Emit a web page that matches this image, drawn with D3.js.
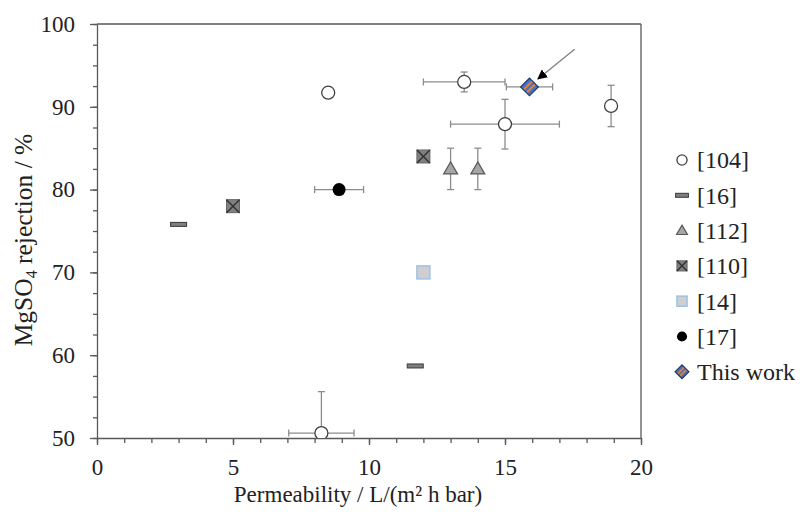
<!DOCTYPE html>
<html>
<head>
<meta charset="utf-8">
<script src="https://cdn.jsdelivr.net/npm/d3@7"></script>
<style>
  body { margin: 0; background: #fff; }
  svg { font-family: "Liberation Serif", "Times New Roman", serif; }
</style>
</head>
<body>
<svg id="chart"></svg>
<script>
// data
const refs = ["[104]", "[16]", "[112]", "[110]", "[14]", "[17]", "This work"];

const perm104 = [8.5, 13.5, 15.0, 18.9, 8.25];
const rej104 = [91.7, 93.0, 87.9, 90.1, 50.6];
const permErr104 = [0, 1.5, 2.0, 0, 1.2];
const rejErr104 = [0, 1.2, 3.0, 2.5, 5.0];

const perm16 = [3.0, 11.7];
const rej16 = [75.8, 58.7];

const perm112 = [13, 14];
const rej112 = [82.5, 82.5];
const rejErr112 = [2.5, 2.5];

const perm110 = [5, 12];
const rej110 = [78, 84];

const perm14 = [12];
const rej14 = [70];

const perm17 = [8.9];
const rej17 = [80];
const permErr17 = [0.9];

const permThis = [15.9];
const rejThis = [92.4];
const permErrThis = [0.85];

// arrow pointing at "This work"
const arrowFrom = [17.56, 96.94];
const arrowTo = [16.21, 93.36];

const xTicks = [0, 5, 10, 15, 20];
const yTicks = [50, 60, 70, 80, 90, 100];

const W = 802, H = 512;
const margin = { top: 24, right: 161, bottom: 74, left: 97 },
  width = W - margin.left - margin.right,
  height = H - margin.top - margin.bottom;

const axisCol = "#595959";
const errCol = "#8c8c8c";

const svg = d3.select("#chart").attr("width", W).attr("height", H);

const x = d3.scaleLinear().domain([0, 20]).range([0, width]);
const y = d3.scaleLinear().domain([50, 100]).range([height, 0]);

const defs = svg.append("defs");
defs.append("clipPath").attr("id", "clip")
  .append("rect").attr("width", width).attr("height", height);
defs.append("marker")
  .attr("id", "arrowhead")
  .attr("viewBox", "0 0 10 10")
  .attr("refX", 9).attr("refY", 5)
  .attr("markerWidth", 10).attr("markerHeight", 10)
  .attr("markerUnits", "userSpaceOnUse")
  .attr("orient", "auto")
  .append("path").attr("d", "M0,0 L10,5 L0,10 Z").attr("fill", "#000");

const g = svg.append("g")
  .attr("transform", "translate(" + margin.left + "," + margin.top + ")");

// plot frame (top + right)
g.append("line").attr("x1", 0).attr("x2", width).attr("y1", 0).attr("y2", 0)
  .attr("stroke", axisCol).attr("stroke-width", 1.3);
g.append("line").attr("x1", width).attr("x2", width).attr("y1", 0).attr("y2", height)
  .attr("stroke", axisCol).attr("stroke-width", 1.3);

// minor ticks
g.append("g")
  .attr("transform", "translate(0," + height + ")")
  .call(d3.axisBottom(x).tickValues(d3.range(0, 21, 1)).tickSize(5).tickFormat(""))
  .call(a => a.select(".domain").remove())
  .call(a => a.selectAll("line").attr("stroke", axisCol).attr("stroke-width", 1.3));
g.append("g")
  .call(d3.axisLeft(y).tickValues(d3.range(50, 100.1, 2.5)).tickSize(4).tickFormat(""))
  .call(a => a.select(".domain").remove())
  .call(a => a.selectAll("line").attr("stroke", axisCol).attr("stroke-width", 1.3));

// major axes
const xAxis = g.append("g")
  .attr("transform", "translate(0," + height + ")")
  .call(d3.axisBottom(x).tickValues(xTicks).tickSize(7).tickSizeOuter(0).tickPadding(14));
const yAxis = g.append("g")
  .call(d3.axisLeft(y).tickValues(yTicks).tickSize(7).tickSizeOuter(0).tickPadding(15));
[xAxis, yAxis].forEach(a => {
  a.attr("font-family", null);
  a.select(".domain").attr("stroke", axisCol).attr("stroke-width", 1.3);
  a.selectAll("line").attr("stroke", axisCol).attr("stroke-width", 1.3);
  a.selectAll("text").attr("font-size", 23).attr("fill", "#222");
});

// axis titles
svg.append("text")
  .attr("x", 358).attr("y", 502)
  .attr("text-anchor", "middle")
  .attr("font-size", 23).attr("fill", "#222")
  .text("Permeability / L/(m² h bar)");

const yt = svg.append("text")
  .attr("transform", "translate(32,240) rotate(-90)")
  .attr("text-anchor", "middle")
  .attr("font-size", 25.5).attr("fill", "#222");
yt.append("tspan").text("MgSO");
yt.append("tspan").attr("font-size", 16).attr("dy", 5).text("4");
yt.append("tspan").attr("dy", -5).text(" rejection / %");

// error bars
const plot = g.append("g").attr("clip-path", "url(#clip)");

function errBars(px, py, ex, ey) {
  px.forEach((p, i) => {
    const cx = x(p), cy = y(py[i]);
    const dx = ex ? ex[i] : 0, dy = ey ? ey[i] : 0;
    const cap = 3.5;
    const eg = plot.append("g").attr("stroke", errCol).attr("stroke-width", 1.3);
    if (dx > 0) {
      eg.append("line").attr("x1", x(p - dx)).attr("x2", x(p + dx)).attr("y1", cy).attr("y2", cy);
      [p - dx, p + dx].forEach(v => eg.append("line")
        .attr("x1", x(v)).attr("x2", x(v)).attr("y1", cy - cap).attr("y2", cy + cap));
    }
    if (dy > 0) {
      eg.append("line").attr("x1", cx).attr("x2", cx).attr("y1", y(py[i] - dy)).attr("y2", y(py[i] + dy));
      [py[i] - dy, py[i] + dy].forEach(v => eg.append("line")
        .attr("x1", cx - cap).attr("x2", cx + cap).attr("y1", y(v)).attr("y2", y(v)));
    }
  });
}
errBars(perm104, rej104, permErr104, rejErr104);
errBars(perm112, rej112, null, rejErr112);
errBars(perm17, rej17, permErr17, null);
errBars(permThis, rejThis, permErrThis, null);

// marker drawers, (sel, cx, cy, scale)
const markers = {
  "[104]": (s, cx, cy, k) => s.append("circle").attr("cx", cx).attr("cy", cy).attr("r", 6.5 * k)
    .attr("fill", "#fff").attr("stroke", "#404040").attr("stroke-width", 1.3),
  "[16]": (s, cx, cy, k) => s.append("rect").attr("x", cx - 8 * k).attr("y", cy - 2)
    .attr("width", 16 * k).attr("height", 4).attr("fill", "#7f7f7f")
    .attr("stroke", "#3a3a3a").attr("stroke-width", 1),
  "[112]": (s, cx, cy, k) => s.append("path")
    .attr("d", `M${cx},${cy - 7 * k} L${cx + 7 * k},${cy + 5 * k} L${cx - 7 * k},${cy + 5 * k} Z`)
    .attr("fill", "#a6a6a6").attr("stroke", "#595959").attr("stroke-width", 1.2),
  "[110]": (s, cx, cy, k) => {
    const h = 6.5 * k;
    s.append("rect").attr("x", cx - h).attr("y", cy - h).attr("width", 2 * h).attr("height", 2 * h)
      .attr("fill", "#808080").attr("stroke", "#666").attr("stroke-width", 1);
    s.append("path").attr("d", `M${cx - h},${cy - h} L${cx + h},${cy + h} M${cx + h},${cy - h} L${cx - h},${cy + h}`)
      .attr("stroke", "#333").attr("stroke-width", 1.5);
  },
  "[14]": (s, cx, cy, k) => s.append("rect").attr("x", cx - 6.5 * k).attr("y", cy - 6.5 * k)
    .attr("width", 13 * k).attr("height", 13 * k)
    .attr("fill", "#d0cece").attr("stroke", "#9dc3e6").attr("stroke-width", 1.5),
  "[17]": (s, cx, cy, k) => s.append("circle").attr("cx", cx).attr("cy", cy).attr("r", 6.5 * k)
    .attr("fill", "#000"),
  "This work": (s, cx, cy, k) => {
    const a = 12.5 * k;
    const dg = s.append("g").attr("transform", `translate(${cx},${cy}) rotate(45)`);
    dg.append("rect").attr("x", -a / 2).attr("y", -a / 2).attr("width", a).attr("height", a)
      .attr("fill", "#4472c4");
    [-a / 6, a / 6].forEach(o => dg.append("rect")
      .attr("x", o - a / 12).attr("y", -a / 2).attr("width", a / 6).attr("height", a)
      .attr("fill", "#ed7d31"));
    dg.append("rect").attr("x", -a / 2).attr("y", -a / 2).attr("width", a).attr("height", a)
      .attr("fill", "none").attr("stroke", "#1f3864").attr("stroke-width", 1.2);
  }
};

const seriesData = [
  ["[104]", perm104, rej104],
  ["[16]", perm16, rej16],
  ["[112]", perm112, rej112],
  ["[110]", perm110, rej110],
  ["[14]", perm14, rej14],
  ["[17]", perm17, rej17],
  ["This work", permThis, rejThis]
];

seriesData.forEach(([name, px, py]) => {
  px.forEach((p, i) => markers[name](plot, x(p), y(py[i]), 1));
});

// arrow
g.append("line")
  .attr("x1", x(arrowFrom[0])).attr("y1", y(arrowFrom[1]))
  .attr("x2", x(arrowTo[0])).attr("y2", y(arrowTo[1]))
  .attr("stroke", "#7f7f7f").attr("stroke-width", 1.3)
  .attr("marker-end", "url(#arrowhead)");

// legend
const legend = svg.append("g").attr("transform", "translate(682,160)");
refs.forEach((r, i) => {
  const ly = i * 35.3;
  const k = r === "[16]" ? 0.8 : 0.78;
  markers[r](legend, 0, ly, k);
  legend.append("text")
    .attr("x", 15).attr("y", ly)
    .attr("dy", "0.35em")
    .attr("font-size", 24).attr("fill", "#222")
    .text(r);
});
</script>
</body>
</html>
